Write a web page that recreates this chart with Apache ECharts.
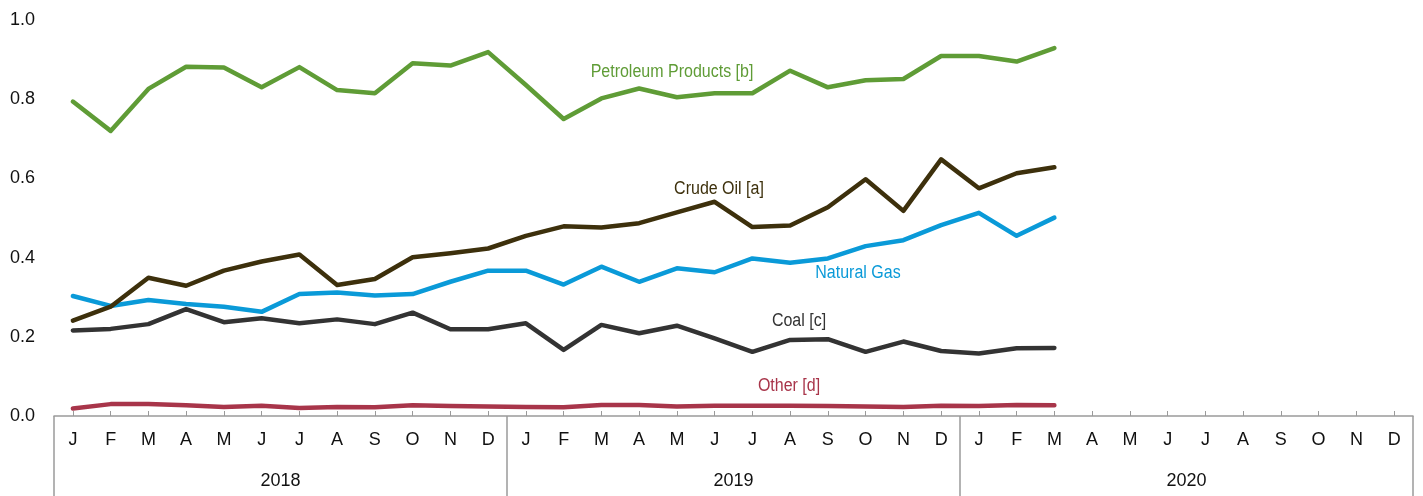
<!DOCTYPE html>
<html><head><meta charset="utf-8">
<script src="https://cdn.jsdelivr.net/npm/echarts@6/dist/echarts.min.js"></script>
<style>html,body{margin:0;padding:0;background:#fff}#c{width:1423px;height:496px}</style>
</head><body><div id="c"></div>
<script>
const months = ['J','F','M','A','M','J','J','A','S','O','N','D',
                'J','F','M','A','M','J','J','A','S','O','N','D',
                'J','F','M','A','M','J','J','A','S','O','N','D'];
const years = ['2018','2019','2020'];
const petroleumProducts = [0.794,0.720,0.826,0.882,0.880,0.830,0.881,0.823,0.815,0.891,0.885,0.919,
                           0.836,0.750,0.802,0.827,0.805,0.815,0.815,0.872,0.830,0.848,0.851,0.909,
                           0.909,0.895,0.929];
const crudeOil = [0.241,0.276,0.349,0.329,0.367,0.390,0.408,0.331,0.346,0.401,0.411,0.423,
                  0.455,0.479,0.476,0.487,0.514,0.541,0.477,0.481,0.527,0.598,0.518,0.648,
                  0.575,0.613,0.628];
const naturalGas = [0.303,0.278,0.293,0.283,0.276,0.263,0.308,0.312,0.304,0.308,0.339,0.367,
                    0.367,0.332,0.377,0.339,0.373,0.363,0.398,0.387,0.398,0.429,0.444,0.482,
                    0.513,0.455,0.501];
const coal = [0.216,0.220,0.232,0.270,0.237,0.247,0.234,0.244,0.232,0.261,0.219,0.219,
              0.234,0.167,0.230,0.209,0.228,0.196,0.162,0.192,0.194,0.162,0.188,0.164,
              0.158,0.171,0.172];
const other = [0.019,0.030,0.030,0.027,0.023,0.026,0.020,0.023,0.022,0.027,0.025,0.024,
               0.023,0.022,0.028,0.028,0.024,0.026,0.026,0.026,0.025,0.024,0.023,0.026,
               0.025,0.028,0.027];
const yTicks = [0, 0.2, 0.4, 0.6, 0.8, 1.0];

const chart = echarts.init(document.getElementById('c'), null, {renderer:'canvas'});
const font = 'Liberation Sans, Arial, sans-serif';
function line(name, data, color){
  return {name, type:'line', data, xAxisIndex:0, symbol:'none', smooth:false,
    lineStyle:{color, width:4.5, cap:'round', join:'round'}, itemStyle:{color}, z:3};
}
const labels = [
  {t:'Petroleum Products [b]', x:672, y:72, c:'#5f9c36'},
  {t:'Crude Oil [a]', x:719, y:189, c:'#3d300c'},
  {t:'Natural Gas', x:858, y:273, c:'#0a9ad8'},
  {t:'Coal [c]', x:799, y:321, c:'#333333'},
  {t:'Other [d]', x:789, y:386, c:'#a8354a'}
];
chart.setOption({
  animation:false,
  backgroundColor:'#fff',
  grid:{left:54, right:10, top:20, bottom:80, containLabel:false},
  xAxis:[{
    type:'category', data:months, boundaryGap:true, position:'bottom',
    axisLine:{show:true, lineStyle:{color:'#9a9a9a', width:1.5}},
    axisTick:{show:true, inside:true, alignWithLabel:true, length:5, interval:0, lineStyle:{color:'#9a9a9a', width:1}},
    axisLabel:{show:true, interval:0, margin:15, fontSize:18, color:'#111', fontFamily:font},
    splitLine:{show:false}
  },{
    type:'category', data:years, boundaryGap:true, position:'bottom',
    axisLine:{show:false},
    axisTick:{show:true, inside:false, length:80, interval:0, lineStyle:{color:'#9a9a9a', width:1.5}},
    axisLabel:{show:true, margin:56, fontSize:18, color:'#111', fontFamily:font},
    splitLine:{show:false}
  }],
  yAxis:{
    type:'value', min:0, max:1, interval:0.2,
    axisLine:{show:false}, axisTick:{show:false}, splitLine:{show:false},
    axisLabel:{margin:19, fontSize:18, color:'#111', fontFamily:font,
      formatter:v=>{const m=yTicks.find(t=>Math.abs(t-v)<1e-9);return (m!==undefined?m:v).toFixed(1);}}
  },
  series:[
    line('Other [d]', other, '#a8354a'),
    line('Coal [c]', coal, '#333333'),
    line('Natural Gas', naturalGas, '#0a9ad8'),
    line('Crude Oil [a]', crudeOil, '#3d300c'),
    line('Petroleum Products [b]', petroleumProducts, '#5f9c36')
  ],
  graphic: labels.map(l=>({type:'text', x:l.x, y:l.y, scaleY:1.15, style:{text:l.t, fill:l.c, font:'16px '+font, textAlign:'center', textVerticalAlign:'middle'}}))
});
</script></body></html>
